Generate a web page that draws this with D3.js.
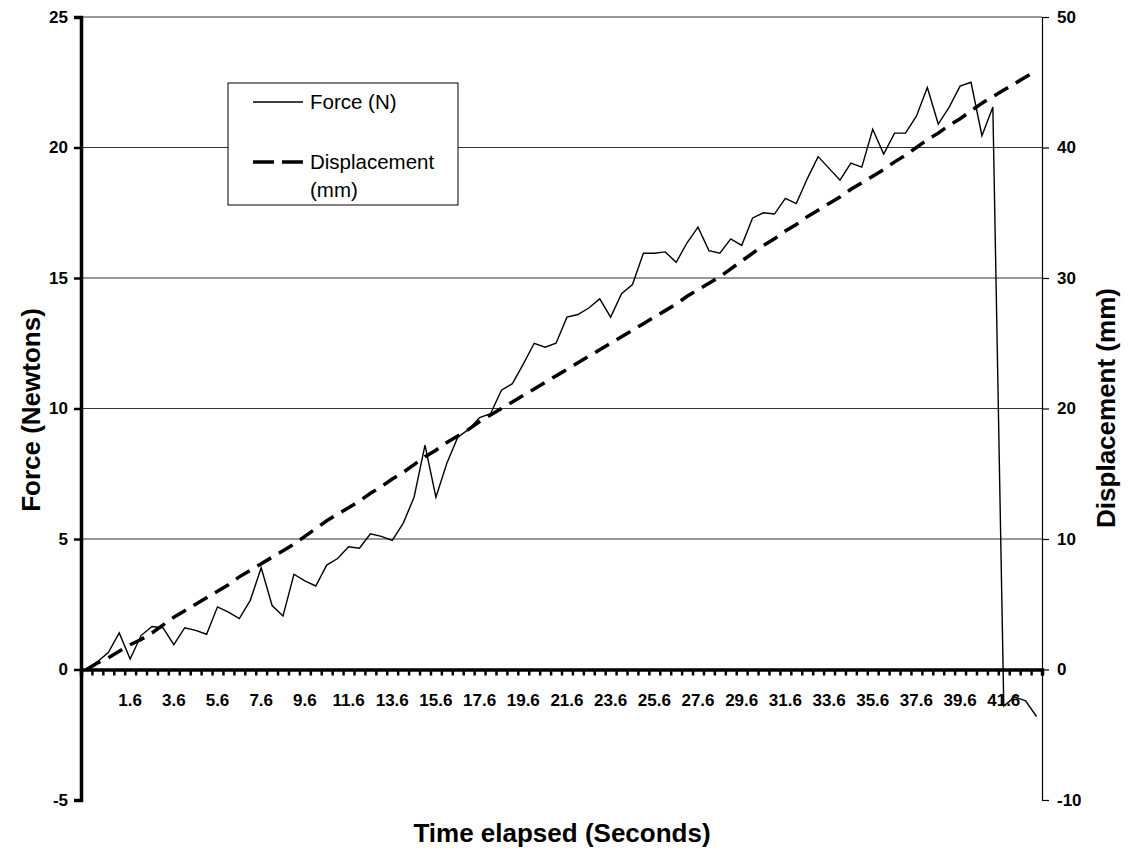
<!DOCTYPE html>
<html>
<head>
<meta charset="utf-8">
<script src="https://cdn.jsdelivr.net/npm/d3@7"></script>
<style>
  body { margin: 0; background: #fff; }
  svg { font-family: "Liberation Sans", Arial, sans-serif; }
  .tick text { font-size: 17px; font-weight: bold; fill: #000; }
  .title { font-size: 26px; font-weight: bold; }
  .legend text { font-size: 20.5px; }
</style>
</head>
<body>
<svg width="1128" height="860"></svg>
<script>
// **** data ****
var times = [0, 0.1, 0.6, 1.1, 1.6, 2.1, 2.6, 3.1, 3.6, 4.1, 4.6, 5.1, 5.6, 6.1, 6.6, 7.1,
  7.6, 8.1, 8.6, 9.1, 9.6, 10.1, 10.6, 11.1, 11.6, 12.1, 12.6, 13.1, 13.6, 14.1, 14.6, 15.1,
  15.6, 16.1, 16.6, 17.1, 17.6, 18.1, 18.6, 19.1, 19.6, 20.1, 20.6, 21.1, 21.6, 22.1, 22.6,
  23.1, 23.6, 24.1, 24.6, 25.1, 25.6, 26.1, 26.6, 27.1, 27.6, 28.1, 28.6, 29.1, 29.6, 30.1,
  30.6, 31.1, 31.6, 32.1, 32.6, 33.1, 33.6, 34.1, 34.6, 35.1, 35.6, 36.1, 36.6, 37.1, 37.6,
  38.1, 38.6, 39.1, 39.6, 40.1, 40.6, 41.1, 41.6, 42.1, 42.6, 43.1];

var tickLabels = [1.6, 3.6, 5.6, 7.6, 9.6, 11.6, 13.6, 15.6, 17.6, 19.6, 21.6, 23.6, 25.6,
  27.6, 29.6, 31.6, 33.6, 35.6, 37.6, 39.6, 41.6];

var force = [0, 0.3, 0.65, 1.4, 0.4, 1.3, 1.65, 1.6, 0.95, 1.6, 1.5, 1.35, 2.4, 2.2, 1.95, 2.65,
  3.9, 2.45, 2.05, 3.65, 3.4, 3.2, 4.0, 4.25, 4.7, 4.65, 5.2, 5.1, 4.95, 5.6, 6.6, 8.6,
  6.6, 7.9, 8.9, 9.2, 9.65, 9.8, 10.7, 10.95, 11.7, 12.5, 12.35, 12.5, 13.5, 13.6, 13.85, 14.2,
  13.5, 14.4, 14.75, 15.95, 15.95, 16.0, 15.6, 16.35, 16.95, 16.05, 15.95, 16.5, 16.25, 17.3,
  17.5, 17.45, 18.05, 17.85, 18.8, 19.65, 19.2, 18.75, 19.4, 19.25, 20.7, 19.75, 20.55, 20.55,
  21.2, 22.3, 20.9, 21.55, 22.35, 22.5, 20.45, 21.55, -1.4, -1.05, -1.2, -1.8];

var displacement = [0, 0.5, 0.9, 1.4, 1.9, 2.3, 2.8, 3.4, 4.0, 4.5, 5.0, 5.5, 6.0, 6.5, 7.1, 7.6,
  8.1, 8.6, 9.1, 9.6, 10.2, 10.8, 11.4, 11.9, 12.4, 12.9, 13.5, 14.0, 14.6, 15.1, 15.7, 16.3,
  16.8, 17.4, 17.9, 18.4, 19.0, 19.5, 20.0, 20.5, 21.0, 21.5, 22.0, 22.5, 23.0, 23.5, 24.0, 24.5,
  25.0, 25.5, 26.0, 26.5, 27.0, 27.5, 28.0, 28.6, 29.1, 29.6, 30.1, 30.7, 31.3, 31.9, 32.5, 33.0,
  33.6, 34.1, 34.7, 35.2, 35.7, 36.2, 36.8, 37.3, 37.8, 38.3, 38.9, 39.4, 40.0, 40.6, 41.1, 41.7,
  42.2, 42.8, 43.4, 43.9, 44.4, 44.9, 45.4, 45.9];

var forceTicks = [-5, 0, 5, 10, 15, 20, 25];
var dispTicks = [-10, 0, 10, 20, 30, 40, 50];

// **** scales ****
var plotLeft = 81, plotRight = 1042, plotTop = 17, plotBottom = 800;

var xScale = d3.scaleBand().domain(times).range([plotLeft, plotRight]).padding(0);
var xEdge = d3.scaleLinear().domain([0, times.length]).range([plotLeft, plotRight]);
var forceScale = d3.scaleLinear().domain([-5, 25]).range([plotBottom, plotTop]);
var dispScale = d3.scaleLinear().domain([-10, 50]).range([plotBottom, plotTop]);

function xMid(i) { return xScale(times[i]) + xScale.bandwidth() / 2; }

var svg = d3.select('svg');

// gridlines
svg.append('g').selectAll('line')
  .data(forceTicks.filter(function(d) { return d > 0; }))
  .enter().append('line')
  .attr('x1', plotLeft).attr('x2', plotRight)
  .attr('y1', function(d) { return forceScale(d); })
  .attr('y2', function(d) { return forceScale(d); })
  .attr('stroke', '#333').attr('stroke-width', 1);

// right axis
svg.append('g').attr('class', 'y axis right')
  .attr('transform', 'translate(' + plotRight + ',0)')
  .call(d3.axisRight(dispScale).tickValues(dispTicks).tickSize(7).tickPadding(8)
    .tickFormat(function(d) { return String(d); }))
  .call(function(g) {
    g.select('.domain').attr('stroke', '#000').attr('stroke-width', 1.2);
    g.selectAll('.tick line').attr('stroke-width', 1.2);
  });

// left axis
svg.append('g').attr('class', 'y axis left')
  .attr('transform', 'translate(' + plotLeft + ',0)')
  .call(d3.axisLeft(forceScale).tickValues(forceTicks).tickSize(7).tickPadding(6)
    .tickFormat(function(d) { return String(d); }))
  .call(function(g) {
    g.select('.domain').attr('stroke', '#000').attr('stroke-width', 3.5);
    g.selectAll('.tick line').attr('stroke-width', 2.5);
  });

// x axis: boundary ticks, then labels centred on categories
var y0 = forceScale(0);
svg.append('g')
  .attr('transform', 'translate(0,' + y0 + ')')
  .call(d3.axisBottom(xEdge).tickValues(d3.range(0, times.length + 1)).tickSize(6)
    .tickFormat(''))
  .call(function(g) {
    g.select('.domain').attr('stroke', '#000').attr('stroke-width', 3.5);
    g.selectAll('.tick line').attr('stroke-width', 2.5);
  });

svg.append('g').attr('class', 'x axis')
  .attr('transform', 'translate(0,' + y0 + ')')
  .call(d3.axisBottom(xScale).tickValues(tickLabels).tickSize(0).tickPadding(24)
    .tickFormat(function(d) { return String(d); }))
  .call(function(g) { g.select('.domain').remove(); });

// series
var forceLine = d3.line()
  .x(function(d, i) { return xMid(i); })
  .y(function(d) { return forceScale(d); });

var dispLine = d3.line()
  .x(function(d, i) { return xMid(i); })
  .y(function(d) { return dispScale(d); });

svg.append('path').datum(displacement)
  .attr('d', dispLine)
  .attr('fill', 'none').attr('stroke', '#000')
  .attr('stroke-width', 3.5).attr('stroke-dasharray', '16,9');

svg.append('path').datum(force)
  .attr('d', forceLine)
  .attr('fill', 'none').attr('stroke', '#000')
  .attr('stroke-width', 1.4).attr('stroke-linejoin', 'miter');

// legend
var legend = svg.append('g').attr('class', 'legend').attr('transform', 'translate(228,83)');
legend.append('rect').attr('width', 230).attr('height', 122)
  .attr('fill', '#fff').attr('stroke', '#000').attr('stroke-width', 1);
legend.append('line').attr('x1', 25).attr('x2', 75).attr('y1', 19).attr('y2', 19)
  .attr('stroke', '#000').attr('stroke-width', 1.4);
legend.append('text').attr('x', 82).attr('y', 26).text('Force (N)');
legend.append('line').attr('x1', 25).attr('x2', 75).attr('y1', 79).attr('y2', 79)
  .attr('stroke', '#000').attr('stroke-width', 3.5).attr('stroke-dasharray', '21,8');
legend.append('text').attr('x', 82).attr('y', 86).text('Displacement');
legend.append('text').attr('x', 82).attr('y', 114).text('(mm)');

// axis titles
svg.append('text').attr('class', 'title')
  .attr('transform', 'translate(40,410) rotate(-90)')
  .attr('text-anchor', 'middle')
  .text('Force  (Newtons)');

svg.append('text').attr('class', 'title')
  .attr('transform', 'translate(1115,408) rotate(-90)')
  .attr('text-anchor', 'middle')
  .text('Displacement (mm)');

svg.append('text').attr('class', 'title')
  .attr('x', 562).attr('y', 842)
  .attr('text-anchor', 'middle')
  .text('Time elapsed (Seconds)');
</script>
</body>
</html>
